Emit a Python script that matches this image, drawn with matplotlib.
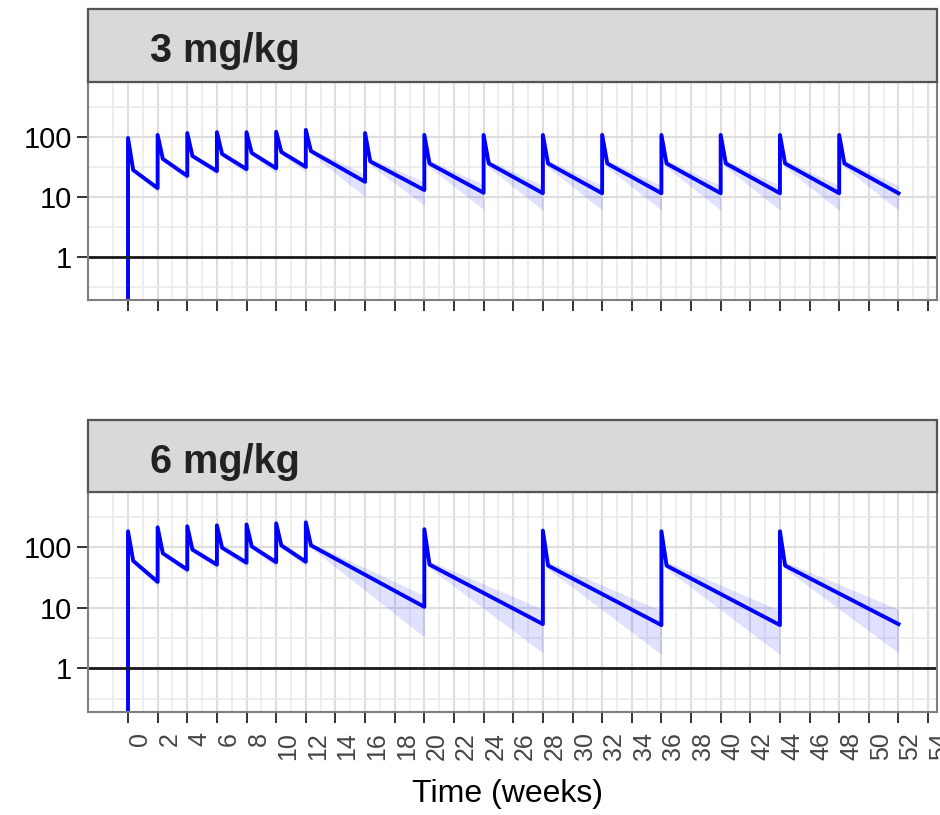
import matplotlib
matplotlib.use('Agg')
import matplotlib.pyplot as plt
from matplotlib.patches import Rectangle

plt.rcParams['font.family'] = ['Liberation Sans', 'DejaVu Sans']

# 3 mg/kg: dose weeks, peak, value just after the fast drop, trough before next dose
doses_3 = [0, 2, 4, 6, 8, 10, 12, 16, 20, 24, 28, 32, 36, 40, 44, 48]
last_3 = 52
peak_3 = [96, 108, 116, 120, 120, 122, 131, 116, 108, 108, 108, 108, 108, 108, 108, 108]
knee_3 = [28, 43, 48, 52, 54, 56, 58, 39, 36, 36, 36, 36, 36, 36, 36, 36]
trough_3 = [14, 22.4, 27, 29, 30, 31.6, 17.8, 13, 11.7, 11.5, 11.5, 11.5, 11.5, 11.5, 11.5, 11.5]
knee_lo_3 = [26, 40, 44, 47, 49, 50, 52, 34, 31, 31, 31, 31, 31, 31, 31, 31]
knee_hi_3 = [30, 46, 52, 57, 59, 62, 64, 44, 41, 41, 41, 41, 41, 41, 41, 41]
trough_lo_3 = [12, 19, 23, 24.5, 25, 26, 10, 7.2, 6.2, 6, 6, 6, 6, 6, 6, 6]
trough_hi_3 = [15.5, 24.5, 30, 32.5, 34, 35.5, 24, 17.8, 16, 15.5, 15.5, 15.5, 15.5, 15.5, 15.5, 15.5]

# 6 mg/kg
doses_6 = [0, 2, 4, 6, 8, 10, 12, 20, 28, 36, 44]
last_6 = 52
peak_6 = [185, 215, 224, 232, 240, 250, 260, 200, 190, 185, 185]
knee_6 = [60, 80, 92, 99, 104, 108, 108, 52, 50, 50, 50]
trough_6 = [27, 43, 52, 56, 57, 58, 10.4, 5.4, 5.2, 5.2, 5.4]
knee_lo_6 = [55, 74, 84, 90, 94, 97, 98, 46, 44, 44, 44]
knee_hi_6 = [64, 86, 100, 108, 114, 119, 120, 60, 58, 58, 58]
trough_lo_6 = [23, 37, 44, 47, 48, 49, 3.3, 1.8, 1.7, 1.7, 1.8]
trough_hi_6 = [30, 48, 58, 63, 64, 66, 16, 9.5, 9, 9, 9.5]

x_ticks = list(range(0, 55, 2))
x_minor = list(range(-1, 55, 2))
y_ticks = [1, 10, 100]
y_labels = ['1', '10', '100']
y_minor = [0.316, 3.16, 31.6, 316]

W, H = 940, 815
KNEE_DT = 0.35


def build(doses, last, peak, knee, trough, klo, khi, tlo, thi):
    t = [0.0]
    c = [1e-3]
    lo = [1e-3]
    hi = [1e-3]
    ends = doses[1:] + [last]
    for i, d in enumerate(doses):
        t += [d, d + KNEE_DT, ends[i]]
        c += [peak[i], knee[i], trough[i]]
        lo += [peak[i], klo[i], tlo[i]]
        hi += [peak[i], khi[i], thi[i]]
    return t, c, lo, hi


def panel(top, bottom, strip_top, title, data, show_labels):
    ax = fig.add_axes([88 / W, 1 - bottom / H, (937 - 88) / W, (bottom - top) / H])
    t, c, lo, hi = data
    ax.fill_between(t, lo, hi, color='#0000ff', alpha=0.12, lw=0)
    ax.plot(t, c, color='#0000ff', lw=2.8, solid_joinstyle='round')
    ax.axhline(1, color='#1a1a1a', lw=2)
    ax.set_yscale('log')
    ax.set_ylim(0.19, 826)
    ax.set_xlim(-2.7, 54.6)
    ax.set_yticks(y_ticks)
    ax.set_yticklabels(y_labels)
    ax.set_yticks(y_minor, minor=True)
    ax.set_xticks(x_ticks)
    ax.set_xticks(x_minor, minor=True)
    ax.set_axisbelow(True)
    ax.grid(which='major', color='#dedede', lw=1.5)
    ax.grid(which='minor', color='#e9e9e9', lw=1.1)
    ax.tick_params(which='minor', length=0)
    ax.tick_params(which='major', length=8, width=1.4, color='#333333')
    ax.tick_params(axis='y', labelsize=21, pad=3.5, labelcolor='black')
    ax.tick_params(axis='x', labelsize=18, pad=6.5, labelcolor='#444444')
    if show_labels:
        plt.setp(ax.get_xticklabels(), rotation=90, ha='left', va='top')
    else:
        ax.tick_params(axis='x', labelbottom=False)
    for s in ax.spines.values():
        s.set_color('#7f7f7f')
        s.set_linewidth(1.5)

    sax = fig.add_axes([88 / W, 1 - top / H, (937 - 88) / W, (top - strip_top) / H])
    sax.set_axis_off()
    sax.add_patch(Rectangle((0, 0), 1, 1, transform=sax.transAxes,
                            facecolor='#d9d9d9', edgecolor='#555555', lw=1.6, clip_on=False))
    fig.text(150 / W, 1 - (strip_top + 53) / H, title, fontsize=28.5,
             fontweight='bold', color='#222222', va='baseline', ha='left')
    return ax


fig = plt.figure(figsize=(W / 100, H / 100), dpi=100)

panel(82, 300, 9, '3 mg/kg',
      build(doses_3, last_3, peak_3, knee_3, trough_3,
            knee_lo_3, knee_hi_3, trough_lo_3, trough_hi_3), False)
panel(492, 712, 420, '6 mg/kg',
      build(doses_6, last_6, peak_6, knee_6, trough_6,
            knee_lo_6, knee_hi_6, trough_lo_6, trough_hi_6), True)

fig.text(507 / W, 1 - 802 / H, 'Time (weeks)', fontsize=23, ha='center', va='baseline')

fig.savefig('out.png', dpi=100)
